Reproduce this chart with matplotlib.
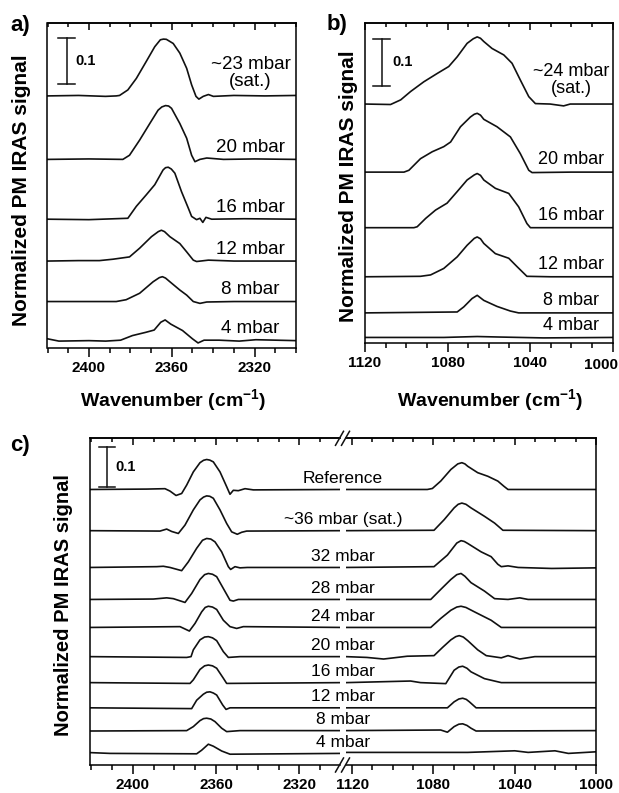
import matplotlib
matplotlib.use("Agg")
import matplotlib.pyplot as plt
from matplotlib.ticker import MultipleLocator, FuncFormatter
from matplotlib.transforms import blended_transform_factory
from matplotlib.lines import Line2D

plt.rcParams["font.family"] = ["Liberation Sans", "DejaVu Sans"]
plt.rcParams["font.weight"] = "bold"
plt.rcParams["mathtext.fontset"] = "custom"
plt.rcParams["mathtext.rm"] = "Liberation Sans:bold"
plt.rcParams["mathtext.default"] = "regular"
plt.rcParams["axes.linewidth"] = 1.1

W, H = 619, 793
SCALE = 0.1

# ---- panel a: CO2 region, (wavenumber, signal) ----
a_labels = ["~23 mbar\n(sat.)", "20 mbar", "16 mbar", "12 mbar", "8 mbar", "4 mbar"]
a_offsets = [0.548, 0.410, 0.280, 0.189, 0.101, 0.016]
a_23 = [(2420, 0), (2405, 0.001), (2392, -0.001), (2386.8, 0), (2385.2, 0.001), (2381.2, 0.013),
        (2377.1, 0.038), (2372.3, 0.075), (2368.2, 0.107), (2365.5, 0.122), (2364, 0.1235),
        (2362.6, 0.123), (2359.3, 0.114), (2356.1, 0.093), (2352.8, 0.06), (2350.4, 0.024),
        (2348.3, -0.001), (2346.9, -0.007), (2344.8, -0.001), (2342.3, 0.003), (2339.9, -0.001),
        (2330, 0.001), (2315, 0), (2300, 0.001)]
a_20 = [(2420, 0), (2400, 0.001), (2383.6, 0), (2380.4, 0.009), (2375.5, 0.042), (2370.6, 0.078),
        (2366.6, 0.107), (2364.8, 0.114), (2363.0, 0.117), (2361.5, 0.116), (2360.1, 0.111),
        (2356.1, 0.078), (2352.8, 0.046), (2350.4, 0.009), (2348.8, -0.005), (2346.4, 0),
        (2343.1, 0.003), (2335, 0), (2320, 0.001), (2300, 0)]
a_16 = [(2420, 0), (2400, -0.001), (2381.2, 0.002), (2377.1, 0.028), (2372.3, 0.053),
        (2368.2, 0.075), (2364.2, 0.107), (2363.0, 0.112), (2361.7, 0.113), (2360.2, 0.109),
        (2358.5, 0.1), (2355.3, 0.06), (2352.0, 0.024), (2350.4, 0.006), (2348.0, -0.001),
        (2346.4, 0.002), (2345.0, -0.007), (2343.5, 0.004), (2340.7, 0), (2325, 0.001), (2300, 0)]
a_12 = [(2420, 0), (2405, 0.001), (2394.9, 0.001), (2388.4, 0.004), (2380.4, 0.009),
        (2375.5, 0.028), (2369.8, 0.053), (2366.5, 0.064), (2365.0, 0.067), (2363.5, 0.064),
        (2360.9, 0.053), (2356.1, 0.038), (2352.8, 0.02), (2349.6, 0.002), (2348.0, -0.001),
        (2342.3, 0.002), (2330, 0), (2300, 0)]
a_8 = [(2420, 0), (2386.8, 0), (2382.0, 0.004), (2375.5, 0.018), (2369.0, 0.043), (2366, 0.052),
       (2364.5, 0.054), (2363, 0.051), (2360.9, 0.043), (2356.1, 0.025), (2352.8, 0.014),
       (2349.6, 0), (2346.4, -0.004), (2343.1, -0.001), (2330, 0), (2300, 0)]
a_4 = [(2420, 0.004), (2414.5, -0.001), (2400, 0), (2391.9, -0.001), (2384.7, 0.001),
       (2379.0, 0.011), (2372.6, 0.018), (2368.5, 0.023), (2365.3, 0.04), (2363.2, 0.045),
       (2360.5, 0.036), (2354.8, 0.022), (2350.0, 0.004), (2347.3, -0.005), (2344.4, 0.001),
       (2337.1, 0.001), (2327.4, -0.001), (2319.4, 0.002), (2300, 0)]

# ---- panel b ----
b_labels = ["~24 mbar\n(sat.)", "20 mbar", "16 mbar", "12 mbar", "8 mbar", "4 mbar"]
b_offsets = [0.516, 0.369, 0.249, 0.143, 0.065, 0.012]
b_24 = [(1120, 0), (1107.6, -0.001), (1102.7, 0.009), (1097.9, 0.027), (1091.5, 0.048),
        (1085.0, 0.066), (1079.4, 0.081), (1075.3, 0.102), (1070.5, 0.131), (1067.5, 0.141),
        (1065.6, 0.145), (1064, 0.142), (1062.4, 0.135), (1058.4, 0.12), (1052.7, 0.106),
        (1048.7, 0.088), (1044.7, 0.052), (1040.6, 0.016), (1037.4, 0.001), (1030.2, 0),
        (1023.7, -0.004), (1020.5, 0), (1000, 0)]
b_20 = [(1120, 0), (1101.1, 0), (1098.7, 0.004), (1093.1, 0.029), (1087.4, 0.044), (1081.8, 0.055),
        (1078.5, 0.065), (1073.7, 0.098), (1068.9, 0.119), (1067, 0.125), (1065.6, 0.127),
        (1064, 0.123), (1062.4, 0.114), (1056.0, 0.098), (1049.5, 0.076), (1044.7, 0.04),
        (1040.6, 0.004), (1039.0, -0.001), (1020, 0), (1000, 0)]
b_16 = [(1120, 0), (1096.3, 0), (1094.7, 0.002), (1090.6, 0.02), (1085.8, 0.038), (1080.2, 0.053),
        (1075.3, 0.078), (1070.5, 0.103), (1067, 0.114), (1065.6, 0.117), (1064, 0.113),
        (1062.4, 0.103), (1056.8, 0.085), (1050.3, 0.074), (1045.5, 0.045), (1041.5, 0.009),
        (1039.8, 0), (1000, 0)]
b_12 = [(1120, 0), (1093.1, 0.001), (1088.2, 0.004), (1081.8, 0.018), (1075.3, 0.043),
        (1070.5, 0.068), (1067, 0.083), (1065.6, 0.086), (1064, 0.082), (1062.4, 0.072),
        (1056.8, 0.05), (1050.3, 0.04), (1046.3, 0.022), (1041.5, 0.001), (1030, 0), (1000, 0)]
b_8 = [(1120, 0), (1075.3, 0.002), (1072.1, 0.013), (1068.1, 0.031), (1065.6, 0.038),
       (1062.4, 0.027), (1056.0, 0.014), (1049.5, 0.004), (1045.5, 0), (1000, 0)]
b_4 = [(1120, 0), (1081.8, 0), (1065.6, 0.002), (1056.0, 0.001), (1033.5, -0.001), (1000, 0)]

# ---- panel c: both regions, broken axis ----
c_labels = ["Reference", "~36 mbar (sat.)", "32 mbar", "28 mbar", "24 mbar", "20 mbar",
            "16 mbar", "12 mbar", "8 mbar", "4 mbar"]
c_offsets = [0.689, 0.586, 0.494, 0.414, 0.344, 0.271, 0.206, 0.143, 0.086, 0.029]
cL_ref = [(2420.5, 0), (2393.3, 0.001), (2384.5, 0.002), (2382.1, -0.004), (2379.2, -0.015),
          (2376.5, -0.01), (2374.1, 0.011), (2370.9, 0.044), (2367.7, 0.067), (2366, 0.073),
          (2364.5, 0.075), (2363, 0.0735), (2361.3, 0.069), (2358.1, 0.044), (2354.9, 0.007),
          (2353.3, -0.012), (2351.7, -0.002), (2349.3, -0.003), (2346.1, 0.002), (2342.1, -0.001),
          (2300, 0)]
cL_36 = [(2420.5, 0), (2386.9, -0.001), (2383.7, 0.004), (2381.3, -0.002), (2378.1, -0.007),
         (2374.9, 0.014), (2370.9, 0.052), (2367.7, 0.077), (2366, 0.084), (2364.5, 0.087),
         (2363, 0.086), (2361.3, 0.081), (2358.1, 0.052), (2354.9, 0.018), (2352.5, -0.003),
         (2349.8, -0.009), (2347.7, -0.004), (2345.3, -0.001), (2300, 0)]
cL_32 = [(2420.5, 0), (2388.5, 0.002), (2385.3, 0.003), (2382.1, 0), (2376.5, -0.008),
         (2373.3, 0.014), (2369.3, 0.048), (2366.5, 0.068), (2364.5, 0.0725), (2362.5, 0.071),
         (2360.5, 0.064), (2357.3, 0.039), (2354.1, 0.002), (2353.0, -0.005), (2350.9, 0.002),
         (2348.5, -0.001), (2345, 0), (2300, 0)]
cL_28 = [(2420.5, 0), (2390.1, 0.001), (2383.7, 0.004), (2380.5, 0.002), (2374.9, -0.0075),
         (2371.7, 0.015), (2367.7, 0.05), (2365.5, 0.062), (2363.7, 0.065), (2361.7, 0.063),
         (2359.7, 0.057), (2356.5, 0.0275), (2353.3, -0.002), (2351.7, -0.004), (2349.3, 0),
         (2300, 0)]
cL_24 = [(2420.5, 0), (2377.3, 0.002), (2372.8, -0.009), (2370.1, 0.01), (2366.9, 0.039),
         (2365.2, 0.05), (2363.7, 0.053), (2361.7, 0.051), (2359.7, 0.045), (2356.5, 0.018),
         (2353.3, 0.002), (2350.1, -0.0025), (2346.9, 0.002), (2300, 0)]
cL_20 = [(2420.5, 0), (2374.1, -0.002), (2372.0, 0), (2370.9, 0.017), (2367.7, 0.042),
         (2365.5, 0.049), (2363.7, 0.05), (2361.7, 0.047), (2359.7, 0.04), (2356.5, 0.0125),
         (2354.1, -0.002), (2348.5, 0), (2300, 0)]
cL_16 = [(2420.5, 0), (2372.5, -0.002), (2370.9, 0.007), (2367.7, 0.033), (2365.5, 0.042),
         (2363.7, 0.044), (2361.7, 0.042), (2359.7, 0.036), (2356.5, 0.011), (2354.9, -0.002),
         (2300, 0)]
cL_12 = [(2420.5, 0), (2371.7, -0.002), (2369.3, 0.019), (2366.1, 0.034), (2364.5, 0.039),
         (2362.9, 0.04), (2361.3, 0.037), (2359.7, 0.032), (2356.8, 0.007), (2355.2, -0.004),
         (2353.3, 0), (2300, 0)]
cL_8 = [(2420.5, -0.001), (2374.1, 0), (2370.9, 0.01), (2367.7, 0.025), (2366, 0.03),
        (2364.5, 0.031), (2362.5, 0.029), (2360.5, 0.0225), (2357.3, 0.006), (2354.9, -0.0025),
        (2348.5, 0), (2300, 0)]
cL_4 = [(2420.5, 0.002), (2410.9, 0), (2369.3, -0.001), (2366.9, 0.008), (2363.7, 0.023),
        (2361.3, 0.018), (2357.3, 0.006), (2353.3, -0.002), (2300, 0)]

cR_ref = [(1123, 0), (1083.0, 0), (1080.5, 0.0025), (1076.4, 0.021), (1071.4, 0.05),
          (1068, 0.064), (1066.0, 0.067), (1064.5, 0.064), (1063.1, 0.058), (1058.2, 0.042),
          (1053.2, 0.033), (1048.3, 0.021), (1045.3, 0.008), (1043.3, 0), (1000, 0)]
cR_36 = [(1123, 0), (1079.7, 0.001), (1074.7, 0.0275), (1069.8, 0.057), (1067.8, 0.066),
         (1066.0, 0.069), (1064, 0.066), (1061.5, 0.057), (1054.9, 0.036), (1049.9, 0.019),
         (1045.8, 0.001), (1000, 0)]
cR_32 = [(1123, 0), (1079.7, 0.002), (1073.1, 0.031), (1068.5, 0.061), (1066.4, 0.067),
         (1064.8, 0.065), (1063.1, 0.06), (1056.5, 0.039), (1051.6, 0.027), (1048.3, 0.008),
         (1046.6, 0.002), (1043.3, 0.004), (1038.3, 0), (1021.8, -0.0025), (1000, -0.001)]
cR_28 = [(1123, 0), (1081.3, 0), (1076.4, 0.025), (1071.4, 0.05), (1068.5, 0.062), (1066.4, 0.065),
         (1064.5, 0.058), (1061.5, 0.042), (1054.9, 0.021), (1049.9, 0.002), (1043.3, 0),
         (1037.5, 0.004), (1033.4, 0), (1000, 0)]
cR_24 = [(1123, 0), (1081.3, 0), (1076.4, 0.0225), (1071.4, 0.043), (1068.5, 0.051),
         (1066.4, 0.053), (1064, 0.05), (1059.8, 0.039), (1051.6, 0.018), (1046.6, 0), (1000, 0)]
cR_20 = [(1123, 0), (1112.7, -0.002), (1104.5, -0.006), (1092.9, 0.001), (1079.7, 0.0025),
         (1075.5, 0.023), (1071.4, 0.042), (1069, 0.05), (1067.3, 0.0525), (1065.3, 0.049),
         (1063.1, 0.04), (1058.2, 0.017), (1054.0, 0.0025), (1046.6, -0.003), (1043.3, 0.0025),
         (1037.5, -0.006), (1030.1, 0), (1000, 0)]
cR_16 = [(1123, 0), (1091.2, 0.004), (1086.3, 0), (1073.9, -0.0025), (1069.8, 0.031),
         (1067.5, 0.039), (1065.6, 0.041), (1063.5, 0.036), (1061.5, 0.027), (1054.9, 0.01),
         (1046.6, 0), (1000, 0)]
cR_12 = [(1123, 0), (1073.1, 0), (1069.8, 0.015), (1067.5, 0.022), (1065.6, 0.024),
         (1063.8, 0.021), (1062.3, 0.015), (1059.0, 0), (1000, 0)]
cR_8 = [(1123, 0), (1076.4, 0.0015), (1073.1, -0.004), (1069.8, 0.01), (1067.5, 0.016),
        (1065.6, 0.017), (1063.5, 0.013), (1061.5, 0.006), (1059.0, -0.001), (1000, 0)]
cR_4 = [(1123, 0.0025), (1063.1, 0.0025), (1040.0, 0.0065), (1033.4, 0.0025), (1020.2, 0.0065),
        (1013.6, 0), (1000, 0.004)]

a_curves = [a_23, a_20, a_16, a_12, a_8, a_4]
b_curves = [b_24, b_20, b_16, b_12, b_8, b_4]
cL_curves = [cL_ref, cL_36, cL_32, cL_28, cL_24, cL_20, cL_16, cL_12, cL_8, cL_4]
cR_curves = [cR_ref, cR_36, cR_32, cR_28, cR_24, cR_20, cR_16, cR_12, cR_8, cR_4]

LINE = "#111111"


def px_box(x0, y0, x1, y1):
    # pixel box (top-left origin) -> figure fraction
    return [x0 / W, 1 - y1 / H, (x1 - x0) / W, (y1 - y0) / H]


def style_axes(ax, xlim, ylim, hide=()):
    ax.set_xlim(*xlim)
    ax.set_ylim(*ylim)
    ax.set_yticks([])
    ax.patch.set_visible(False)
    ax.xaxis.set_major_locator(MultipleLocator(40))
    ax.xaxis.set_minor_locator(MultipleLocator(10))
    ax.xaxis.set_major_formatter(FuncFormatter(lambda v, p: "" if round(v) in hide else f"{v:.0f}"))
    ax.tick_params(axis="x", which="both", direction="out", width=1.1, labelsize=11, pad=3)
    ax.tick_params(axis="x", which="major", length=6.5)
    ax.tick_params(axis="x", which="minor", length=3.5)
    top = ax.secondary_xaxis("top")
    top.xaxis.set_major_locator(MultipleLocator(40))
    top.xaxis.set_minor_locator(MultipleLocator(10))
    top.tick_params(which="both", direction="in", width=1.1, labeltop=False)
    top.tick_params(which="major", length=5)
    top.tick_params(which="minor", length=3)
    return top


def draw_stack(ax, curves, offsets):
    for pts, off in zip(curves, offsets):
        ax.plot([p[0] for p in pts], [p[1] + off for p in pts], color=LINE, lw=1.2,
                solid_joinstyle="round")


def scale_bar(ax, xfrac, y0, cap, text_x):
    tr = blended_transform_factory(ax.transAxes, ax.transData)
    kw = dict(transform=tr, color=LINE, lw=1.1, clip_on=False)
    ax.plot([xfrac, xfrac], [y0, y0 + SCALE], **kw)
    ax.plot([xfrac - cap, xfrac + cap], [y0, y0], **kw)
    ax.plot([xfrac - cap, xfrac + cap], [y0 + SCALE, y0 + SCALE], **kw)
    ax.text(text_x, y0 + SCALE / 2, "0.1", transform=tr, va="center", ha="left", fontsize=10.5)


fig = plt.figure(figsize=(W / 100, H / 100), dpi=100)

# panel a
ax_a = fig.add_axes(px_box(47.5, 23, 296, 348))
style_axes(ax_a, (2420, 2300), (0, 0.7065))
draw_stack(ax_a, a_curves, a_offsets)
for lab, off in zip(a_labels, a_offsets):
    pad = 0.013 if "\n" in lab else 0.007
    ax_a.text(2322, off + pad, lab, ha="center", va="bottom", fontsize=13.5,
              fontweight="normal", linespacing=1.0)
scale_bar(ax_a, 0.077, 0.573, 0.034, 0.111)

# panel b (last tick label squeezed in against the figure edge)
ax_b = fig.add_axes(px_box(365, 23, 612.5, 343))
style_axes(ax_b, (1120, 1000), (0, 0.691), hide=(1000,))
draw_stack(ax_b, b_curves, b_offsets)
for lab, off in zip(b_labels, b_offsets):
    pad = 0.015 if "\n" in lab else 0.008
    ax_b.text(1020, off + pad, lab, ha="center", va="bottom", fontsize=13,
              fontweight="normal", linespacing=1.0)
scale_bar(ax_b, 0.067, 0.556, 0.034, 0.109)
fig.text(618 / W, 1 - 358 / H, "1000", ha="right", va="top", fontsize=11)

# panel c, two halves with a break
ax_cl = fig.add_axes(px_box(90, 438.3, 340, 765))
ax_cr = fig.add_axes(px_box(346, 438.3, 596, 765))
style_axes(ax_cl, (2420.5, 2300.5), (0, 0.817))
style_axes(ax_cr, (1123, 1000), (0, 0.817))
ax_cl.spines["right"].set_visible(False)
ax_cr.spines["left"].set_visible(False)
draw_stack(ax_cl, cL_curves, c_offsets)
draw_stack(ax_cr, cR_curves, c_offsets)
tr_c = blended_transform_factory(ax_cl.transAxes, ax_cl.transData)
for lab, off in zip(c_labels, c_offsets):
    t = ax_cl.text(1.012, off + 0.009, lab, transform=tr_c, ha="center", va="bottom",
                   fontsize=12.5, fontweight="normal", zorder=10)
    t.set_clip_on(False)
scale_bar(ax_cl, 0.067, 0.696, 0.032, 0.1)

# break marks
for ys in (438.3, 765):
    for xc in (339.5, 345.5):
        fig.add_artist(Line2D([(xc - 4) / W, (xc + 4) / W], [1 - (ys + 7) / H, 1 - (ys - 7) / H],
                              transform=fig.transFigure, color=LINE, lw=1.1))

# axis titles and panel letters
ylab = "Normalized PM IRAS signal"
fig.text(22 / W, 1 - 190 / H, ylab, rotation=90, ha="center", va="center", fontsize=15)
fig.text(348 / W, 1 - 186 / H, ylab, rotation=90, ha="center", va="center", fontsize=15)
fig.text(64 / W, 1 - 605 / H, ylab, rotation=90, ha="center", va="center", fontsize=14.5)
xlab = r"Wavenumber (cm$^{-1}$)"
fig.text(173 / W, 1 - 400 / H, xlab, ha="center", va="center", fontsize=14)
fig.text(490 / W, 1 - 400 / H, xlab, ha="center", va="center", fontsize=14)
fig.text(10 / W, 1 - 15 / H, "a)", ha="left", va="top", fontsize=16)
fig.text(327 / W, 1 - 14 / H, "b)", ha="left", va="top", fontsize=16)
fig.text(10 / W, 1 - 435 / H, "c)", ha="left", va="top", fontsize=16)

fig.savefig("out.png", dpi=100, facecolor="white")
